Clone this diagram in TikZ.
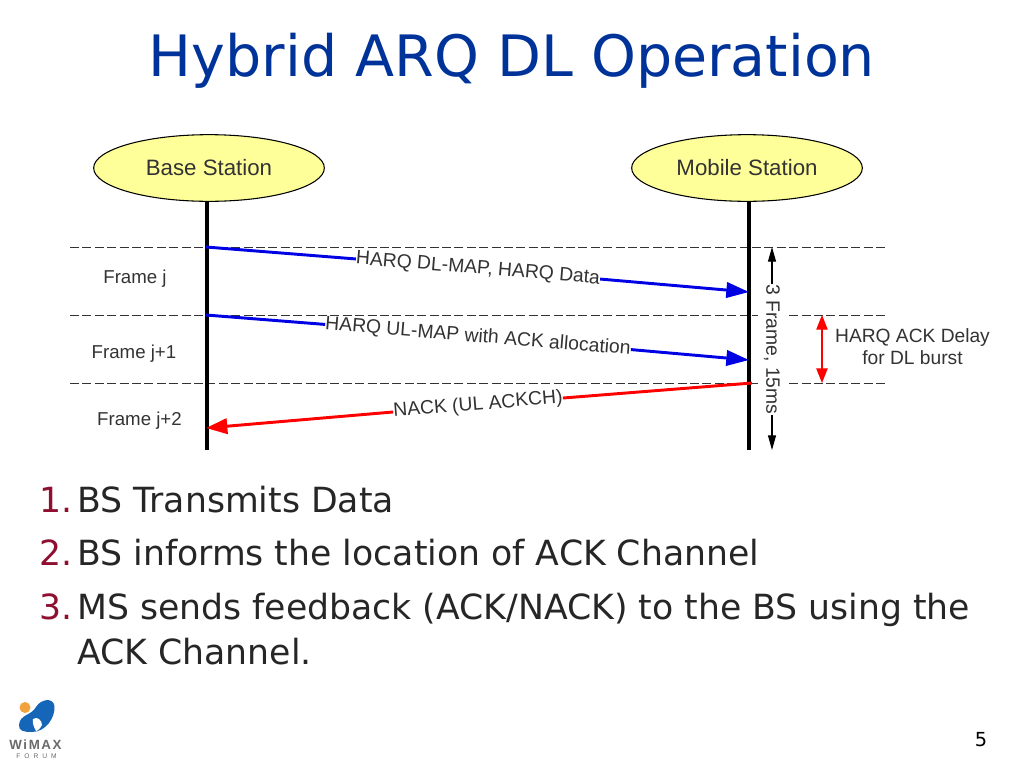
\documentclass[tikz,border=0pt]{standalone}
\usepackage{fontspec}
\setmainfont{DejaVu Sans}
\newfontfamily\diagfont{Liberation Sans}
\usetikzlibrary{arrows.meta,shapes.geometric}
\definecolor{titleblue}{HTML}{003399}
\definecolor{numred}{HTML}{8E0F2F}
\definecolor{ellfill}{HTML}{FFFF99}
\definecolor{ink}{HTML}{333333}
\definecolor{logoblue}{HTML}{1565B8}
\definecolor{logoorange}{HTML}{F2A23C}
\definecolor{logogray}{HTML}{6A6A6A}
\tikzset{
  x=0.75pt,y=-0.75pt,
  station/.style={ellipse,draw=black,line width=0.8pt,fill=ellfill,minimum width=173pt,minimum height=50pt,inner sep=0pt,text=ink,font=\diagfont\fontsize{16.7pt}{19pt}\selectfont},
  lifeline/.style={line width=3pt,black},
  framesep/.style={draw=ink,line width=0.7pt,dash pattern=on 6.7pt off 2.6pt},
  framelab/.style={text=ink,inner sep=0pt,font=\diagfont\fontsize{14pt}{17pt}\selectfont},
  msglab/.style={text=ink,inner sep=0pt,font=\diagfont\fontsize{14.5pt}{17pt}\selectfont},
  blueline/.style={draw=blue!90!black,line width=2.2pt},
  redline/.style={draw=red,line width=2.2pt},
  bluehead/.style={blueline,-{Triangle[length=17pt,width=11.5pt]}},
  redhead/.style={redline,-{Triangle[length=16pt,width=11.5pt]}},
  timeline/.style={draw=black,line width=0.8pt},
  listnum/.style={anchor=base east,inner sep=0pt,text=numred,font=\fontsize{26pt}{30pt}\selectfont},
  listtxt/.style={anchor=base west,inner sep=0pt,text=black!85,font=\fontsize{26pt}{30pt}\selectfont},
}
\begin{document}
\begin{tikzpicture}
\useasboundingbox (0,0) rectangle (1024,768);
\fill[white] (0,0) rectangle (1024,768);
\node[anchor=base,inner sep=0pt,text=titleblue,font=\fontsize{42.8pt}{50pt}\selectfont] (title) at (512,76) {Hybrid ARQ DL Operation};

% stations and lifelines
\node[station] (bs) at (209,168) {Base Station};
\node[station] (ms) at (747,168) {Mobile Station};
\coordinate (bstop) at (206.5,202);
\coordinate (mstop) at (748.5,202);
\coordinate (bsend) at (206.5,450);
\coordinate (msend) at (748.5,450);
% frame separators
\foreach \n/\y in {a/247,b/315,c/383}{
  \coordinate (l\n) at (70,\y);
  \coordinate (r\n) at (886,\y);
  \draw[framesep] (l\n) -- (r\n);
}
\draw[lifeline] (bstop) -- (bsend);
\draw[lifeline] (mstop) -- (msend);

\node[framelab] (fj) at (135,278.5) {Frame j};
\node[framelab] (fj1) at (134,353.5) {Frame j+1};
\node[framelab] (fj2) at (139.5,420.5) {Frame j+2};

% messages
\coordinate (m1s) at (206,247);
\coordinate (m1e) at (749,292);
\coordinate (m2s) at (206,315);
\coordinate (m2e) at (749,360);
\coordinate (m3s) at (752,383);
\coordinate (m3e) at (206,428);
\node[msglab,rotate=-4.7] (m1) at (478,269) {HARQ DL-MAP, HARQ Data};
\node[msglab,rotate=-4.7] (m2) at (478,337) {HARQ UL-MAP with ACK allocation};
\node[msglab,rotate=4.7] (m3) at (478,405) {NACK (UL ACKCH)};
\draw[blueline] (m1s) -- (m1.west);
\draw[bluehead] (m1.east) -- (m1e);
\draw[blueline] (m2s) -- (m2.west);
\draw[bluehead] (m2.east) -- (m2e);
\draw[redline] (m3s) -- (m3.east);
\draw[redhead] (m3.west) -- (m3e);

% 3 frame span
\coordinate (ft) at (772,247);
\coordinate (fb) at (772,450);
\node[msglab,rotate=-90,fill=white,inner ysep=4.5pt] (span) at (772,349.5) {3 Frame, 15ms};
\draw[timeline,-{Triangle[length=11pt,width=6pt]}] (span.west) -- (ft);
\draw[timeline,-{Triangle[length=11pt,width=6pt]}] (span.east) -- (fb);

% ack delay
\coordinate (dt) at (822,315);
\coordinate (db) at (822,383);
\draw[draw=red,line width=0.9pt,{Triangle[length=11pt,width=8.5pt]}-{Triangle[length=11pt,width=8.5pt]}] (dt) -- (db);
\node[align=center,text=ink,inner sep=0pt,font=\diagfont\fontsize{14.4pt}{17pt}\selectfont] (delay) at (912.5,346.5) {HARQ ACK Delay\\for DL burst};

% list
\node[listnum] (n1) at (72.5,512) {1.};
\node[listtxt] (t1) at (77,512) {BS Transmits Data};
\node[listnum] (n2) at (72.5,565) {2.};
\node[listtxt] (t2) at (77,565) {BS informs the location of ACK Channel};
\node[listnum] (n3) at (72.5,619) {3.};
\node[listtxt] (t3) at (77,619) {MS sends feedback (ACK/NACK) to the BS using the};
\node[listtxt] (t4) at (77,664) {ACK Channel.};

% logo
\fill[logoorange] (25,707.5) circle (5.5);
\fill[logoblue] (19,725) .. controls (20,714) and (31,716) .. (36,707)
  .. controls (41,699) and (53,697) .. (54.5,706)
  .. controls (55.5,717) and (46,732) .. (32,732)
  .. controls (24,732) and (18.5,731) .. (19,725) -- cycle;
\fill[white] (33,719) .. controls (37,716) and (42,720) .. (42,725)
  .. controls (40,729) and (37,731) .. (36,731)
  .. controls (34,727) and (32,723) .. (33,719) -- cycle;
\node[inner sep=0pt,text=logogray,font=\diagfont\bfseries\fontsize{10pt}{11pt}\selectfont\addfontfeature{LetterSpace=12}] (wm) at (35.5,745) {WiMAX};
\node[inner sep=0pt,text=logogray,font=\diagfont\fontsize{5pt}{6pt}\selectfont\addfontfeature{LetterSpace=60}] (fo) at (36.5,756) {FORUM};

\node[anchor=base,inner sep=0pt,text=black,font=\fontsize{14.5pt}{17pt}\selectfont] (pg) at (981,746) {5};
\end{tikzpicture}
\end{document}
